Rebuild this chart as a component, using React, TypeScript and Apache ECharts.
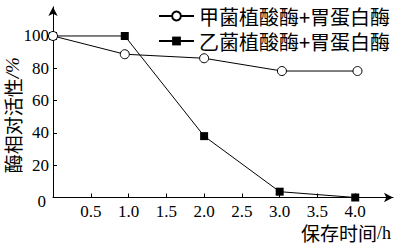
import React, { useEffect, useRef } from "react";
import * as echarts from "echarts";

const seriesNames = ["甲菌植酸酶+胃蛋白酶", "乙菌植酸酶+胃蛋白酶"];
const timeA = [0, 0.95, 2, 3.03, 4.03];
const activityA = [100, 88.7, 86.2, 78.3, 78.3];
const timeB = [0, 0.95, 2, 3, 4];
const activityB = [100, 100, 38, 3.6, 0];
const xTicks = [0.5, 1.0, 1.5, 2.0, 2.5, 3.0, 3.5, 4.0];
const yTicks = [0, 20, 40, 60, 80, 100];
const yTickMarks = [20, 40, 60, 80, 100];

const CJK = "'Noto Sans CJK SC', 'Noto Sans', sans-serif";
const SERIF = "'Liberation Serif', 'DejaVu Serif', serif";

export default function App() {
  const ref = useRef<HTMLDivElement>(null);
  useEffect(() => {
    if (!ref.current) return;
    const chart = echarts.init(ref.current, null, { renderer: "svg" });
    chart.setOption({
      animation: false,
      backgroundColor: "#fff",
      grid: {
        left: 53,
        right: 9,
        top: 6.9,
        bottom: 46.5,
        containLabel: false,
        outerBoundsMode: "none",
      },
      legend: {
        orient: "vertical",
        left: 158,
        top: 5,
        itemWidth: 35,
        itemHeight: 11,
        itemGap: 3,
        padding: 0,
        data: seriesNames,
        textStyle: { fontFamily: CJK, fontSize: 20, color: "#000", lineHeight: 22 },
      },
      xAxis: {
        type: "value",
        min: 0,
        max: 4.5,
        splitLine: { show: false },
        axisLine: {
          lineStyle: { color: "#000", width: 1 },
          symbol: ["none", "arrow"],
          symbolSize: [7, 9],
        },
        axisTick: { inside: true, length: 4, customValues: xTicks, lineStyle: { color: "#000" } },
        axisLabel: {
          customValues: xTicks,
          formatter: (v: number) => v.toFixed(1),
          fontFamily: SERIF,
          fontSize: 17,
          color: "#000",
          margin: 5,
        },
        name: "{a|保存时间}{b|/h}",
        nameLocation: "end",
        nameGap: -2,
        nameMoveOverlap: false,
        nameTextStyle: {
          align: "right",
          verticalAlign: "top",
          padding: [25, 0, 0, 0],
          rich: {
            a: { fontFamily: CJK, fontSize: 19, color: "#000", lineHeight: 20 },
            b: { fontFamily: SERIF, fontSize: 18, color: "#000", lineHeight: 20 },
          },
        },
      },
      yAxis: {
        type: "value",
        min: 0,
        max: 118,
        splitLine: { show: false },
        axisLine: {
          lineStyle: { color: "#000", width: 1 },
          symbol: ["none", "arrow"],
          symbolSize: [7, 9],
        },
        axisTick: { inside: true, length: 4, customValues: yTickMarks, lineStyle: { color: "#000" } },
        axisLabel: {
          customValues: yTicks,
          formatter: (v: number) => (v === 0 ? "{z|0}" : String(v)),
          fontFamily: SERIF,
          fontSize: 17,
          color: "#000",
          margin: 4,
          rich: {
            z: { fontFamily: SERIF, fontSize: 17, color: "#000", padding: [7, 3, 0, 0] },
          },
        },
        name: "{a|酶相对活性}{b|/%}",
        nameLocation: "middle",
        nameGap: 31,
        nameMoveOverlap: false,
        nameTextStyle: {
          padding: [0, 26, 0, 0],
          rich: {
            a: { fontFamily: CJK, fontSize: 19, color: "#000", lineHeight: 20 },
            b: { fontFamily: SERIF, fontSize: 19, fontStyle: "italic", color: "#000", lineHeight: 20 },
          },
        },
      },
      series: [
        {
          name: seriesNames[0],
          type: "line",
          z: 3,
          data: timeA.map((t, i) => [t, activityA[i]]),
          symbol: "circle",
          symbolSize: 9,
          lineStyle: { color: "#000", width: 1 },
          itemStyle: { color: "#fff", borderColor: "#000", borderWidth: 1 },
        },
        {
          name: seriesNames[1],
          type: "line",
          z: 2,
          data: timeB.map((t, i) => [t, activityB[i]]),
          symbol: "rect",
          symbolSize: 8,
          lineStyle: { color: "#000", width: 1 },
          itemStyle: { color: "#000", borderColor: "#000", borderWidth: 0 },
        },
      ],
    });
    return () => chart.dispose();
  }, []);
  return <div ref={ref} style={{ width: 402, height: 244, position: "absolute", left: 0, top: 0 }} />;
}
